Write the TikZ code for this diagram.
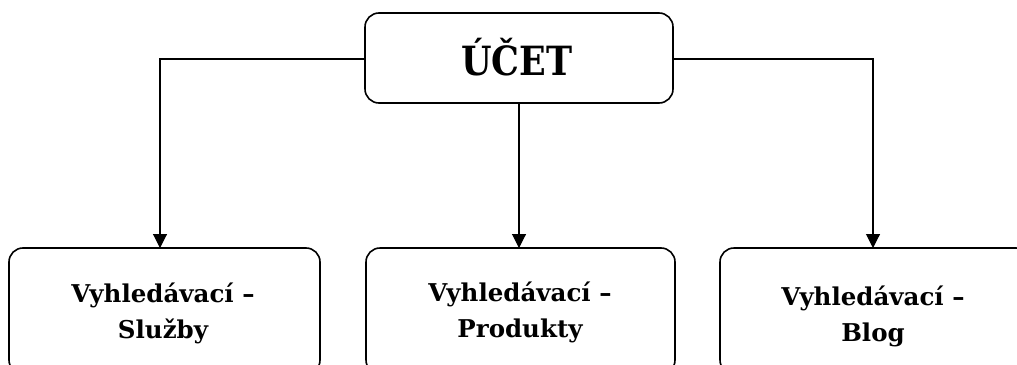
\documentclass[tikz,border=0pt]{standalone}
\usepackage{fontspec}
\usepackage{graphicx}
\setmainfont{DejaVu Serif}
\usetikzlibrary{arrows.meta}
\tikzset{
  box/.style={draw, line width=1.6pt, rounded corners=14pt, fill=white},
  lab/.style={font=\bfseries\fontsize{24.5}{36}\selectfont, align=center},
  conn/.style={line width=1.1pt},
  arr/.style={conn, -{Triangle[length=14pt,width=14pt]}}
}
\begin{document}
\begin{tikzpicture}[x=1pt,y=-1pt]
\useasboundingbox (0,0) rectangle (1017,364);
\draw[box] (365,13) rectangle (673,103);
\node[font=\bfseries\fontsize{35}{40}\selectfont] (ucet) at (517,57) {\scalebox{1}[1.15]{ÚČET}};
\coordinate (top) at (519,103);
\coordinate (tl) at (365,59);
\coordinate (tr) at (673,59);
\draw[box] (9,248) rectangle (320,374);
\draw[box] (366,248) rectangle (675,374);
\draw[box] (720,248) rectangle (1030,374);
\node[lab] (s) at (163,313) {Vyhledávací –\\Služby};
\node[lab] (p) at (520,312) {Vyhledávací –\\Produkty};
\node[lab] (b) at (873,316) {Vyhledávací –\\Blog};
\coordinate (sl) at (160,248);
\coordinate (pr) at (519,248);
\coordinate (bl) at (873,248);
\draw[arr] (tl) -| (sl);
\draw[arr] (tr) -| (bl);
\draw[arr] (top) -- (pr);
\end{tikzpicture}
\end{document}
